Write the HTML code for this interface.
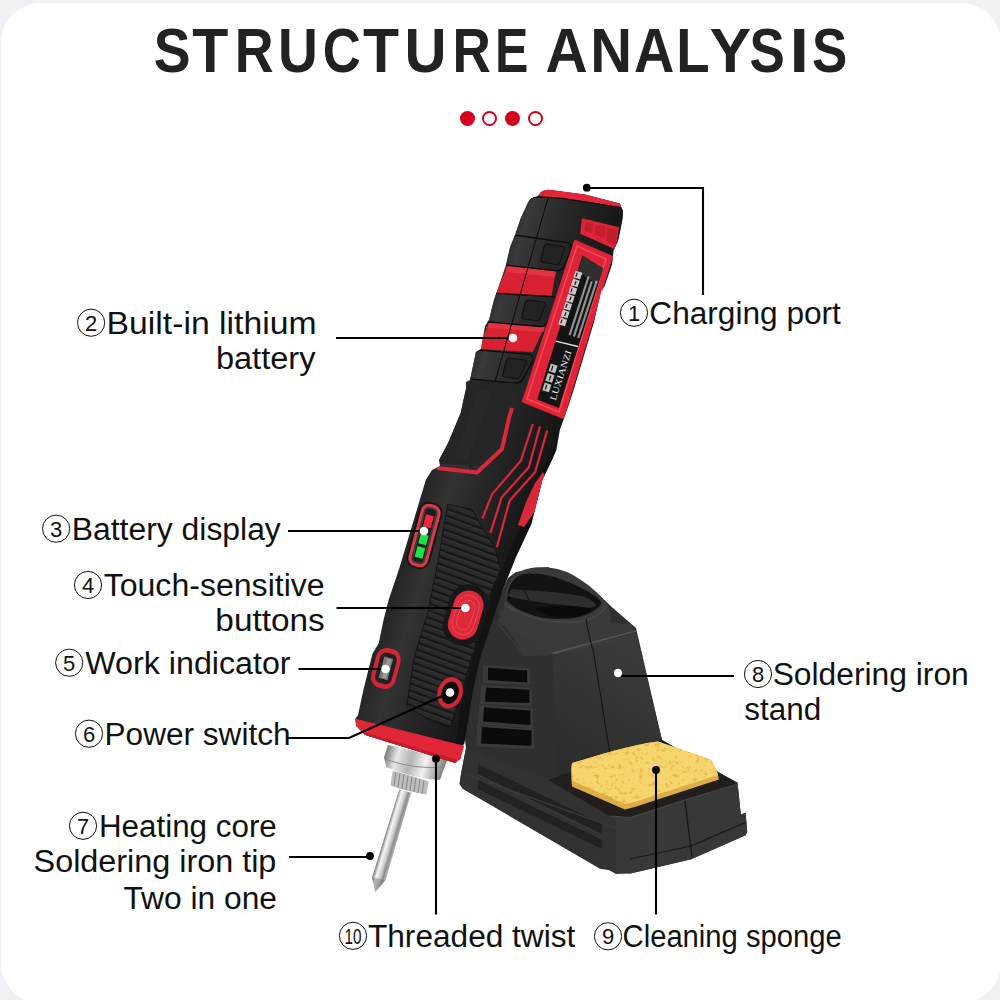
<!DOCTYPE html>
<html><head><meta charset="utf-8">
<style>
html,body{margin:0;padding:0;width:1000px;height:1000px;overflow:hidden;background:#f0f1f4;}
#card{position:absolute;left:1px;top:3px;width:1000px;height:1000px;border-radius:40px;background:#fff;}
svg{position:absolute;left:0;top:0;}
</style></head>
<body>
<div id="card"></div>
<svg width="1000" height="1000" viewBox="0 0 1000 1000" font-family="Liberation Sans, sans-serif">
<defs>
</defs>

<!-- title -->
<g id="title" font-size="63" font-weight="bold" fill="#222">
<text x="153.65" y="71.6" textLength="36.83" lengthAdjust="spacingAndGlyphs">S</text>
<text x="192.26" y="71.6" textLength="35.99" lengthAdjust="spacingAndGlyphs">T</text>
<text x="234.78" y="71.6" textLength="38.90" lengthAdjust="spacingAndGlyphs">R</text>
<text x="277.89" y="71.6" textLength="39.87" lengthAdjust="spacingAndGlyphs">U</text>
<text x="322.80" y="71.6" textLength="37.95" lengthAdjust="spacingAndGlyphs">C</text>
<text x="363.06" y="71.6" textLength="35.99" lengthAdjust="spacingAndGlyphs">T</text>
<text x="404.41" y="71.6" textLength="42.03" lengthAdjust="spacingAndGlyphs">U</text>
<text x="452.43" y="71.6" textLength="38.33" lengthAdjust="spacingAndGlyphs">R</text>
<text x="495.12" y="71.6" textLength="33.39" lengthAdjust="spacingAndGlyphs">E</text>
<text x="545.55" y="71.6" textLength="42.14" lengthAdjust="spacingAndGlyphs">A</text>
<text x="590.32" y="71.6" textLength="41.81" lengthAdjust="spacingAndGlyphs">N</text>
<text x="634.03" y="71.6" textLength="40.30" lengthAdjust="spacingAndGlyphs">A</text>
<text x="676.13" y="71.6" textLength="33.35" lengthAdjust="spacingAndGlyphs">L</text>
<text x="709.41" y="71.6" textLength="41.61" lengthAdjust="spacingAndGlyphs">Y</text>
<text x="749.42" y="71.6" textLength="35.28" lengthAdjust="spacingAndGlyphs">S</text>
<text x="789.56" y="71.6" textLength="19.46" lengthAdjust="spacingAndGlyphs">I</text>
<text x="812.12" y="71.6" textLength="35.28" lengthAdjust="spacingAndGlyphs">S</text>
</g>
<g fill="#d7001a">
<circle cx="467.5" cy="118.5" r="7.5"/>
<circle cx="512.5" cy="118.5" r="7.5"/>
</g>
<g fill="none" stroke="#d7001a" stroke-width="2">
<circle cx="489.5" cy="118.5" r="6.5"/>
<circle cx="535.5" cy="118.5" r="6.5"/>
</g>

<!-- PRODUCT -->
<g id="product">
<g id="stand">
<defs>
<linearGradient id="frontg" gradientUnits="userSpaceOnUse" x1="560" y1="770" x2="650" y2="640">
<stop offset="0" stop-color="#2c2c2c"/><stop offset="1" stop-color="#3c3c3c"/>
</linearGradient>
</defs>
<!-- back silhouette fill -->
<polygon fill="#303030" points="466,680 490,620 500,596 508,578 516,572 548,567 596,592 611.8,607 636,628 662,740 716.8,771.2 737.6,782.4 740.8,814.4 745.6,812.8 747.2,832 745.6,835.2 691.2,859.2 630.4,873.6 600,868.8 462.8,788.8 459.6,784 461.2,772.8 466,748 462,700"/>
<!-- tower left face -->
<polygon fill="#2f2f2f" points="466,680 490,622 497,612 552.4,653.4 556,782 466,748 462,700"/>
<polygon fill="#383838" points="497,612 501.8,609.4 552.4,653.4 548,656 524,655"/>
<polyline fill="none" stroke="#3a3a3a" stroke-width="1.2" points="497,622 524,655.6 552.4,653.4"/>
<!-- vents -->
<g fill="#3a3a3a">
<polygon points="483,665 530,668 530,685 483,683"/>
<polygon points="481,685 532,687.5 532,706 480,704"/>
<polygon points="479,705 533,708.5 533,728 478,724.5"/>
<polygon points="477,725 534,728.5 534,749 476,746.5"/>
</g>
<g fill="#0b0b0b">
<polygon points="488,667.7 527.1,670.5 527.1,682.5 488,680"/>
<polygon points="486,687.5 529.3,689.7 529.3,703 485,701.8"/>
<polygon points="484,707.3 530.4,710.6 530.4,725 483,721.6"/>
<polygon points="482,727 531.5,730.4 531.5,745.8 481,743.6"/>
</g>
<!-- tower front face -->
<polygon fill="url(#frontg)" points="552.4,653.4 636,633.6 662,740 556,782"/>
<polyline fill="none" stroke="#3f3f3f" stroke-width="1.5" points="552.4,654 636,634.2"/>
<!-- tower shoulder top -->
<polygon fill="#3a3a3a" points="497,620 501,617 540,635 588,638 610.4,623 631,624 636,630.5 552.4,653.4"/>
<polyline fill="none" stroke="#555" stroke-width="1.8" points="552.4,653.4 636,631"/>
<polyline fill="none" stroke="#3c3c3c" stroke-width="1.2" points="499,622 552.4,653.4"/>
<!-- cup outer -->
<path fill="#3a3a3a" d="M504,609.5 C504,595 508,580 516,573.5 C525,568 537,566.5 547.5,567.5 C558,568.5 566,571 573,575 C585,582 594,589 600,596 C606,602 609,606 609,609.5 C611,614 611,619 610.4,623 C605,633 595,637 588,638 C570,640 555,637 540,635 C525,630 508,622 501,617 Z"/>
<!-- cup opening -->
<path fill="#131313" d="M507,600.5 C507,588 512,579 520.5,575 C527,573 534,573.5 540,574 C560,577 580,586 595,596 C599,599 601.5,601 601.4,603.5 C598,610 585,617 570,618.5 C560,619 552,619 545,618 C530,615 514,609 507,600.5 Z"/>
<path fill="#2e2e2e" d="M507.5,596 C509,592 511,590 513,589 C535,591 560,592 582,596 C590,599 595,602 596,606 C590,609 585,607 575,606 C555,604 530,602 507.5,596 Z"/>
<path fill="#0a0a0a" d="M535,609 C545,605 575,605 592,609 C588,614 578,617 565,618 C552,618 542,614 535,609 Z"/>
<path fill="none" stroke="#484848" stroke-width="1.3" d="M504.5,603 C515,614 540,622 570,622.5 C590,622 603,614 606,605"/>
<polyline fill="none" stroke="#161616" stroke-width="1.1" points="521,575 524,590 531,604"/>
<polyline fill="none" stroke="#161616" stroke-width="1.1" points="586,619 588,630 590,639 594,655 610,754"/>
<!-- base left side -->
<polygon fill="#323232" points="466,748 556,782 616,822 616,874 462.8,788.8 459.6,784 461.2,772.8"/>
<polygon fill="#222" points="478,764 602,824 602,834 478,774"/>
<polygon fill="#222" points="478,780 602,840 602,849 478,789"/>
<polyline fill="none" stroke="#3c3c3c" stroke-width="1" points="478,775 602,835"/>
<polyline fill="none" stroke="#3a3a3a" stroke-width="1.2" points="461.2,772.8 616,828 630.4,818"/>
<!-- tray -->
<polygon fill="#221e1b" points="548,780 662,740 716.8,771.2 737.6,784 684.8,800 630.4,817.6 609.6,816"/>
<!-- base front -->
<polygon fill="#383838" points="609.6,816 630.4,817.6 684.8,800 737.6,784 740.8,814.4 745.6,812.8 747.2,832 745.6,835.2 691.2,859.2 630.4,873.6 616,874 616,822"/>
<polyline fill="none" stroke="#1a1a1a" stroke-width="1.2" points="630,859 691,846 745.6,822.4"/>
<line x1="684.8" y1="800" x2="692" y2="857.6" stroke="#151515" stroke-width="1.2"/>
<polyline fill="none" stroke="#474747" stroke-width="1.2" points="609.6,816 630.4,817.6 684.8,800 737.6,784"/>
<!-- sponge -->
<defs>
<filter id="spongeTex" x="0" y="0" width="100%" height="100%" color-interpolation-filters="sRGB">
<feTurbulence type="fractalNoise" baseFrequency="0.23" numOctaves="3" seed="11" result="n"/>
<feColorMatrix in="n" type="matrix" values="0 0 0 0 0.86  0 0 0 0 0.64  0 0 0 0 0.20  6 0 0 0 -3.4" result="spots"/>
<feComposite in="spots" in2="SourceGraphic" operator="in"/>
</filter>
</defs>
<path fill="#dcae4a" d="M572,763 C600,755 630,745 657.8,741.5 L710.6,759.6 C714,765 718,772 718.9,779.4 L634.7,807 L624.8,809.5 L572,786.5 C571,778 571,770 572,763 Z"/>
<path fill="#f6d56c" d="M572,763 C600,755 630,745 657.8,741.5 L710.6,759.6 C714,765 717,770 718,775 L634.7,802 L624.8,804 L573,781 C571.5,775 571,769 572,763 Z"/>
<path fill="#000" filter="url(#spongeTex)" opacity="0.5" d="M572,763 C600,755 630,745 657.8,741.5 L710.6,759.6 C714,765 718,772 718.9,779.4 L634.7,807 L624.8,809.5 L572,786.5 C571,778 571,770 572,763 Z"/>
</g>
<g id="iron">
<defs>
<linearGradient id="chrome" gradientUnits="userSpaceOnUse" x1="384" y1="758" x2="447" y2="777">
<stop offset="0" stop-color="#7a7a7a"/><stop offset="0.18" stop-color="#e6e6e6"/><stop offset="0.4" stop-color="#b4b4b4"/><stop offset="0.62" stop-color="#f2f2f2"/><stop offset="0.85" stop-color="#9c9c9c"/><stop offset="1" stop-color="#5e5e5e"/>
</linearGradient>
<linearGradient id="shaft" gradientUnits="userSpaceOnUse" x1="386" y1="833.2" x2="398" y2="836.8">
<stop offset="0" stop-color="#8a8a8a"/><stop offset="0.25" stop-color="#f6f6f6"/><stop offset="0.55" stop-color="#d0d0d0"/><stop offset="0.8" stop-color="#8c8c8c"/><stop offset="1" stop-color="#b0b0b0"/>
</linearGradient>
<linearGradient id="bodyg" gradientUnits="userSpaceOnUse" x1="440" y1="400" x2="560" y2="437">
<stop offset="0" stop-color="#1e1e1e"/><stop offset="0.28" stop-color="#333"/><stop offset="0.6" stop-color="#242424"/><stop offset="1" stop-color="#151515"/>
</linearGradient>
<linearGradient id="ringg" gradientUnits="userSpaceOnUse" x1="480" y1="300" x2="580" y2="331">
<stop offset="0" stop-color="#202020"/><stop offset="0.2" stop-color="#3a3a3a"/><stop offset="0.45" stop-color="#2c2c2c"/><stop offset="1" stop-color="#181818"/>
</linearGradient>
<pattern id="ridges" patternUnits="userSpaceOnUse" width="40" height="6.8" patternTransform="rotate(20)">
<rect width="40" height="6.8" fill="#2b2b2b"/>
<rect y="4.4" width="40" height="2.2" fill="#161616"/>
<rect y="0" width="40" height="0.9" fill="#363636"/>
</pattern>
<clipPath id="ironclip"><path d="M520.4,219 L528.2,202 Q531,197 537,196.5 L539.3,194.3 Q541,190 549,189.8 L585,194.5 L619.9,203.5 L623.1,211.2 L622.5,219 L620.5,229.4 L618,241 L613.7,250 L612,264.4 L604.7,286 L601,291.4 L594,322 L583.2,358 L572.4,394 L568.8,404.7 L559.8,430 L556.4,450 L552,460 L542.4,480 L531.4,524 L516,557 L502.8,590 L480.8,656 L473,690 L469.6,711.6 L464.2,744 L460.6,747.6 L460.6,758.4 L455.2,762.9 L365.2,735 L356.2,726 L355.3,718.8 L358,715.2 L363.4,690 L372.4,654 L378.7,643.2 L383.2,621.6 L388.6,600 L399.4,568 L412.6,524 L425.8,480 L432,470 L440,466 L439,460 L448,443.2 L460.8,412.8 L466,388 L466,382 L470,380 L476,352 L481,349 L485,326 L489,320 L494,300 L506,265 L510,247.6 L515.2,234.6 Z"/></clipPath>
</defs>
<!-- shaft and tip -->
<path fill="url(#shaft)" d="M399.2,789.6 L411.2,792.8 L385.6,880 L375.2,892 L372,877.6 Z"/>
<path fill="#777" opacity="0.5" d="M372,877.6 L385.6,880 L375.2,892 Z"/>
<!-- knurled nut -->
<path fill="#bdbdbd" d="M392.8,770.4 L428.8,781.6 L426.4,794.4 Q408,792 390.4,785.6 Z"/>
<g stroke="#808080" stroke-width="0.9">
<line x1="396" y1="772" x2="394" y2="786"/><line x1="400" y1="773" x2="398" y2="787.5"/><line x1="404" y1="774" x2="402" y2="789"/><line x1="408" y1="775.5" x2="406" y2="790"/><line x1="412" y1="776.5" x2="410" y2="791"/><line x1="416" y1="777.5" x2="414" y2="792"/><line x1="420" y1="779" x2="418" y2="793"/><line x1="424" y1="780" x2="422" y2="794"/>
</g>
<!-- chrome collar -->
<path fill="url(#chrome)" d="M388,745 L448,759 L445.6,764 L440,780 Q412,778 386.4,767.2 L384,757.6 Z"/>
<path fill="none" stroke="#8a8a8a" stroke-width="1" d="M384.5,759 Q415,770 445,767"/>
<!-- body -->
<path fill="url(#bodyg)" d="M520.4,219 L528.2,202 Q531,197 537,196.5 L539.3,194.3 Q541,190 549,189.8 L585,194.5 L619.9,203.5 L623.1,211.2 L622.5,219 L620.5,229.4 L618,241 L613.7,250 L612,264.4 L604.7,286 L601,291.4 L594,322 L583.2,358 L572.4,394 L568.8,404.7 L559.8,430 L556.4,450 L552,460 L542.4,480 L531.4,524 L516,557 L502.8,590 L480.8,656 L473,690 L469.6,711.6 L464.2,744 L460.6,747.6 L460.6,758.4 L455.2,762.9 L365.2,735 L356.2,726 L355.3,718.8 L358,715.2 L363.4,690 L372.4,654 L378.7,643.2 L383.2,621.6 L388.6,600 L399.4,568 L412.6,524 L425.8,480 L432,470 L440,466 L439,460 L448,443.2 L460.8,412.8 L466,388 L466,382 L470,380 L476,352 L481,349 L485,326 L489,320 L494,300 L506,265 L510,247.6 L515.2,234.6 Z"/>
<g clip-path="url(#ironclip)">
<!-- top cap body -->
<path fill="url(#ringg)" d="M528,202 Q531,196.5 538,196.5 L562,198.5 L621,207.5 L623,211 L622.5,219 L620.5,229.4 L618,241 L613.7,250 L570,243.5 L517.7,235.5 L515.2,234.6 L520.4,219 Z"/>
<!-- red bands (under rings) -->
<polygon fill="#d82232" points="508,265 556,270.5 551.5,296 496,293.5"/>
<polygon fill="#e8404c" opacity="0.6" points="507,266 556,271.5 555,277 505,272"/>
<polygon fill="#d82232" points="490,321 545,326 533,352 478,349"/>
<polygon fill="#e8404c" opacity="0.6" points="489,322 545,327 544,332 487,328"/>
<!-- rings -->
<path fill="url(#ringg)" stroke="#0d0d0d" stroke-width="1.4" d="M517.7,235.5 L568,242.8 Q572,244 571,250 L563,268 Q560,271.5 554.5,270.5 L506.4,265.2 Q503,264 504,258 L511,241 Q513,235 517.7,235.5 Z"/>
<path fill="url(#ringg)" stroke="#0d0d0d" stroke-width="1.4" d="M495,293.2 L553,296.7 Q557,298 556,304 L547,323 Q544,327 540,326.5 L488,322 Q485,321 486,315 L490,300 Q491,293 495,293.2 Z"/>
<path fill="url(#ringg)" stroke="#0d0d0d" stroke-width="1.4" d="M479.2,350 L530,354.4 Q534,356 533,361 L522,380 Q519,383.5 515,383.3 L469.6,379 Q466,378 467,372 L472,357 Q474,350 479.2,350 Z"/>
<!-- center seam -->
<line x1="548" y1="198" x2="470" y2="468" stroke="#0c0c0c" stroke-width="1"/>
<!-- recessed squares -->
<g fill="#222" stroke="#111" stroke-width="1.1">
<path d="M547,244 L562,246.5 Q565,247 564,250 L560,262 Q559,265 556,264.5 L543,262.5 Q540,262 541,259 L544,247 Q545,244 547,244 Z"/>
<path d="M528,300 L543,302 Q546,302.5 545,305.5 L540,318.5 Q539,321 536,320.5 L524,319 Q521,318.5 522,315.5 L525,303 Q526,300 528,300 Z"/>
<path d="M509,358 L524,360 Q527,360.5 526,363.5 L520,376.5 Q519,379 516,378.5 L505,377 Q502,376.5 503,373.5 L506,361 Q507,358 509,358 Z"/>
</g>
<!-- red cap -->
<path fill="#e3263a" d="M538.5,196 Q540,190 549,189.3 L585,194 L620.5,203 L621,208 L590,202 L562,198.2 L545,197 Z"/>
<path fill="none" stroke="#0c0c0c" stroke-width="1.2" d="M530,199 Q533,196.8 540,196.8 L562,198.4 L621,207.6"/>
<!-- small red rect top right -->
<polygon fill="#de2436" points="582,218.2 619.2,227.2 615.6,249.4 580.2,233.8"/>
<g fill="#c41d2d"><polygon points="585.6,221.8 593.4,223.6 592.2,232.6 584.4,230.8"/><polygon points="595.8,224.2 606,226.6 604.8,238 594.6,235"/><polygon points="607.2,227.2 617.4,229.6 615.6,247 606,241"/></g>
<!-- label panel -->
<polygon fill="#de2436" points="574.4,239.6 613,256 566,412 563,419 521.6,402"/>
<polygon fill="none" stroke="#ef4a58" stroke-width="1.5" points="577,246 606,259 559,412 527,399"/>
<polygon fill="#141414" points="582.4,255.6 603.2,268.4 558.8,408 537.2,399.6"/>
<polygon fill="#3a3a3a" opacity="0.7" points="582.4,255.6 603.2,268.4 598,285 578,272"/>
<line x1="555.6" y1="341.2" x2="578" y2="346.5" stroke="#e0e0e0" stroke-width="1.3"/>
<g transform="translate(564,326) rotate(-72)" fill="#e8e8e8" opacity="0.85">
<rect x="0" y="-6" width="7" height="7"/><rect x="8.2" y="-6" width="7" height="7"/><rect x="16.4" y="-6" width="7" height="7"/><rect x="24.6" y="-6" width="7" height="7"/><rect x="32.8" y="-6" width="7" height="7"/><rect x="41" y="-6" width="7" height="7"/><rect x="49.2" y="-6" width="7" height="7"/>
</g>
<g transform="translate(564,326) rotate(-72)" fill="#141414">
<rect x="1.5" y="-4.5" width="4" height="1.2"/><rect x="9.7" y="-3" width="4" height="1.2"/><rect x="17.9" y="-4.5" width="4" height="1.2"/><rect x="26.1" y="-3" width="4" height="1.2"/><rect x="34.3" y="-4.5" width="4" height="1.2"/><rect x="42.5" y="-3" width="4" height="1.2"/><rect x="50.7" y="-4.5" width="4" height="1.2"/>
</g>
<g transform="translate(569,335) rotate(-72)" fill="#bbb" opacity="0.75">
<rect x="0" y="-0.5" width="62" height="2.2"/><rect x="0" y="4" width="58" height="2.2"/><rect x="0" y="8.5" width="60" height="2.2"/>
</g>
<g transform="translate(548,392) rotate(-72)" fill="#ddd" opacity="0.85">
<rect x="0" y="-6" width="8" height="7"/><rect x="10" y="-6" width="8" height="7"/><rect x="20" y="-6" width="8" height="7"/>
</g>
<g transform="translate(548,392) rotate(-72)" fill="#141414">
<rect x="1.5" y="-4" width="5" height="1.2"/><rect x="11.5" y="-3" width="5" height="1.2"/><rect x="21.5" y="-4" width="5" height="1.2"/>
</g>
<text transform="translate(555.5,401) rotate(-72)" font-family="Liberation Serif, serif" font-size="9" fill="#eee" textLength="52" lengthAdjust="spacingAndGlyphs">LUXIANZI</text>
<!-- right edge darkening -->
<polygon fill="#0e0e0e" opacity="0.55" points="556.4,450 552,460 542.4,480 531.4,524 516,557 502.8,590 480.8,656 473,690 469.6,711.6 464.2,744 455,744 462,700 475,650 495,585 510,550 525,515 540,470"/>
<!-- lower cover segment -->
<path fill="#262626" d="M470,381 L516,383.5 L514,390 L508,417 L499,452 L480,466 L446,464 Q438,463 439,458 Z"/>
<path fill="#333" opacity="0.3" d="M478,390 L492,391 L468,460 L454,459 Z"/>
<polyline fill="none" stroke="#d8283a" stroke-width="4" stroke-linejoin="round" points="437,468 477,472.5 502,449 509,418 512,408"/>
<!-- red stripes -->
<g stroke="#d8283a" stroke-width="2.2" fill="none" stroke-linejoin="round">
<polyline points="532.8,424 520.8,460.8 492,494.4 482.4,518.4"/>
<polyline points="540,426.4 528.8,467.2 501.6,497.6 490.4,532.8"/>
<polyline points="547.2,430.4 535.2,472 509.6,500.8 496.8,547.2"/>
</g>
<polygon fill="#d8283a" points="543,472 547,480 537,508 524,527 518,525 526,502 535,483"/>
<!-- ridged grip panel -->
<path fill="url(#ridges)" d="M447.6,504.4 L471.6,509.2 L495.6,550 L500.4,569.2 L490.8,593.2 L471.6,658 L457.2,706 L450,727.6 Q430,722 406.8,706 L414,658 L428.4,610 L438,562 Z"/>
<path fill="none" stroke="#151515" stroke-width="1" d="M447.6,504.4 L471.6,509.2 L495.6,550 L500.4,569.2 L490.8,593.2 L471.6,658 L457.2,706 L450,727.6 Q430,722 406.8,706 L414,658 L428.4,610 L438,562 Z"/>
<!-- battery display -->
<g transform="translate(424.5,535.5) rotate(15)">
<rect x="-12" y="-34" width="24" height="68" rx="10" fill="#161616"/>
<rect x="-10" y="-32" width="20" height="64" rx="8" fill="#dc3a4a"/>
<rect x="-7" y="-29" width="14" height="58" rx="5" fill="#3a3a3a"/>
<rect x="-5" y="-27" width="10" height="54" rx="3" fill="#1c1c1c"/>
<rect x="-4" y="-21" width="8" height="12.5" fill="#f02844"/>
<rect x="-4" y="-1" width="8" height="10" fill="#1ee048"/>
<rect x="-4" y="12" width="8" height="11" fill="#1ee048"/>
</g>
<!-- touch button -->
<g transform="translate(465.7,615) rotate(17)">
<rect x="-20" y="-31" width="40" height="62" rx="20" fill="#181818"/>
<rect x="-15" y="-25" width="30" height="50" rx="15" fill="#dc2a3a"/>
<rect x="-11" y="-20" width="22" height="40" rx="11" fill="none" stroke="#e8505c" stroke-width="0.8"/>
<rect x="-7" y="-15" width="14" height="30" rx="7" fill="none" stroke="#e8505c" stroke-width="0.8"/>
</g>
<!-- work indicator -->
<g transform="translate(385.9,668.4) rotate(15)">
<rect x="-12.5" y="-20.5" width="25" height="41" rx="11" fill="#d22636"/>
<rect x="-8.5" y="-15.5" width="17" height="31" rx="6" fill="#222"/>
<rect x="-4.5" y="-11" width="9" height="22" fill="#7a7a7a"/>
<rect x="-1" y="-10" width="4" height="20" fill="#9a9a9a"/>
</g>
<!-- power switch -->
<g transform="translate(450.1,692.7) rotate(17)">
<ellipse rx="12.5" ry="16" fill="#d22636"/>
<ellipse rx="8.5" ry="11.5" fill="#0c0c0c"/>
</g>
</g>
<!-- bottom red ring -->
<polygon fill="#e12638" points="355.3,718.8 464.2,745.8 460.6,758.4 455.2,762.9 365.2,735 356.2,726"/>
<polygon fill="#b81c2a" opacity="0.8" points="360,731 456,759.5 455.2,762.9 365.2,735"/>
</g>
</g>

<!-- leader lines -->
<g id="leaders" stroke="#000" stroke-width="2.1" fill="none">
<polyline points="586.8,188 703,188 703,295"/>
<line x1="336" y1="338" x2="513" y2="338"/>
<line x1="288" y1="531" x2="424" y2="531"/>
<line x1="336.5" y1="608" x2="465.4" y2="608"/>
<line x1="298.5" y1="669" x2="385.5" y2="669"/>
<polyline points="287.7,738 349,738 450,692.5"/>
<line x1="289" y1="857" x2="370" y2="857"/>
<line x1="621" y1="676" x2="734" y2="676"/>
<line x1="656" y1="770" x2="656" y2="914.5"/>
<line x1="436" y1="758.7" x2="436" y2="914.5"/>
</g>
<g id="dots">
<circle cx="586.8" cy="187.7" r="3.9" fill="#000"/>
<circle cx="370" cy="856" r="3.9" fill="#000"/>
<circle cx="656" cy="770" r="3.9" fill="#000"/>
<circle cx="436" cy="758.7" r="3.9" fill="#000"/>
<circle cx="513" cy="338" r="4.3" fill="#fff"/>
<circle cx="424" cy="531" r="4.3" fill="#fff"/>
<circle cx="465.4" cy="608" r="4.3" fill="#fff"/>
<circle cx="385.5" cy="669" r="4.3" fill="#fff"/>
<circle cx="450" cy="692.5" r="4.3" fill="#fff"/>
<circle cx="618" cy="673" r="4.2" fill="#fff"/>
</g>

<!-- labels -->
<g id="labels" font-size="31" fill="#111">
<text x="649.36" y="323.5" textLength="191.48" lengthAdjust="spacingAndGlyphs">Charging port</text>
<text x="106.57" y="333.8" textLength="209.95" lengthAdjust="spacingAndGlyphs">Built-in lithium</text>
<text x="215.9" y="369" textLength="99.57" lengthAdjust="spacingAndGlyphs">battery</text>
<text x="71.69" y="539.85" textLength="209.14" lengthAdjust="spacingAndGlyphs">Battery display</text>
<text x="103.67" y="595.5" textLength="221.01" lengthAdjust="spacingAndGlyphs">Touch-sensitive</text>
<text x="215.35" y="631.4" textLength="109.41" lengthAdjust="spacingAndGlyphs">buttons</text>
<text x="85.3" y="674" textLength="205.28" lengthAdjust="spacingAndGlyphs">Work indicator</text>
<text x="104.56" y="744.6" textLength="185.98" lengthAdjust="spacingAndGlyphs">Power switch</text>
<text x="98.98" y="836.7" textLength="177.81" lengthAdjust="spacingAndGlyphs">Heating core</text>
<text x="33.61" y="872.2" textLength="242.76" lengthAdjust="spacingAndGlyphs">Soldering iron tip</text>
<text x="123.48" y="908.6" textLength="153.48" lengthAdjust="spacingAndGlyphs">Two in one</text>
<text x="772.65" y="684.5" textLength="196.1" lengthAdjust="spacingAndGlyphs">Soldering iron</text>
<text x="744.38" y="720.2" textLength="76.99" lengthAdjust="spacingAndGlyphs">stand</text>
<text x="622.62" y="946.7" textLength="219.03" lengthAdjust="spacingAndGlyphs">Cleaning sponge</text>
<text x="367.98" y="946.7" textLength="207.35" lengthAdjust="spacingAndGlyphs">Threaded twist</text>
</g>
<g id="circnums" fill="none" stroke="#111" stroke-width="1">
<circle cx="634" cy="312.8" r="13.6"/>
<circle cx="91.1" cy="322.7" r="13.6"/>
<circle cx="56.1" cy="528.7" r="13.6"/>
<circle cx="88" cy="585" r="13.6"/>
<circle cx="69.2" cy="662.7" r="13.6"/>
<circle cx="89" cy="733.7" r="13.6"/>
<circle cx="83" cy="825.8" r="13.6"/>
<circle cx="758" cy="674" r="13.6"/>
<circle cx="608" cy="936.3" r="13.6"/>
<circle cx="353" cy="935.8" r="13.6"/>
</g>
<g id="circdigits" font-size="22" fill="#111" text-anchor="middle">
<text x="634.0" y="320.8">1</text>
<text x="91.1" y="330.7">2</text>
<text x="56.1" y="536.7">3</text>
<text x="88.0" y="593.0">4</text>
<text x="69.2" y="670.7">5</text>
<text x="89.0" y="741.7">6</text>
<text x="83.0" y="833.8">7</text>
<text x="758.0" y="682.0">8</text>
<text x="608.0" y="944.3">9</text>
<text x="353.0" y="943.8" textLength="17" lengthAdjust="spacingAndGlyphs">10</text>
</g>
</svg>
</body></html>
